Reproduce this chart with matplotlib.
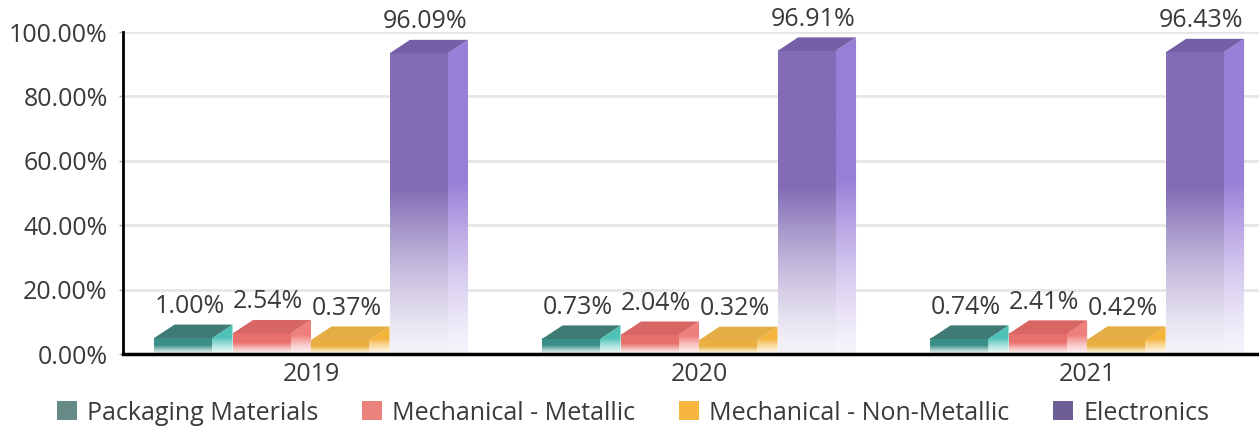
import numpy as np
import matplotlib
matplotlib.use("Agg")
import matplotlib.pyplot as plt
from matplotlib.patches import Polygon, Patch
from matplotlib.colors import to_rgb

# datos del gráfico
years = ["2019", "2020", "2021"]
series = ["Packaging Materials", "Mechanical - Metallic",
          "Mechanical - Non-Metallic", "Electronics"]
packaging = [1.00, 0.73, 0.74]
metallic = [2.54, 2.04, 2.41]
non_metallic = [0.37, 0.32, 0.42]
electronics = [96.09, 96.91, 96.43]
yticks = [0, 20, 40, 60, 80, 100]

values = [packaging, metallic, non_metallic, electronics]

# colores: cara frontal, cara superior, cara lateral, leyenda
front_c = ["#3a8f87", "#e8706c", "#e8b040", "#826cb5"]
top_c = ["#3f7b74", "#d86665", "#e5ae45", "#7460a6"]
side_c = ["#4fc2b8", "#ef7f7b", "#f4b43c", "#9a7fd8"]
legend_c = ["#668a86", "#e8827b", "#f6b63f", "#6e5e96"]

plt.rcParams['font.family'] = ['Open Sans', 'DejaVu Sans']
TXT = "#3a3a3a"
FS = 18

fig = plt.figure(figsize=(12.59, 4.30), dpi=100)
ax = fig.add_axes([123 / 1259, 1 - 354 / 430, 1 - 123 / 1259, (354 - 32) / 430])

slot = 0.2023      # ancho de cada barra incluyendo el lateral
w = 0.1495         # ancho de la cara frontal
dx = slot - w      # profundidad en x
dy = 4.2           # profundidad en y (en %)


def grad_img(color, n=200):
    """Degradado vertical: mitad superior sólida, mitad inferior hacia blanco."""
    c = np.array(to_rgb(color))
    t = np.linspace(0, 1, n)
    mix = 0.08 + 0.92 * np.clip(t / 0.55, 0, 1) ** 1.3
    rgb = c[None, :] * mix[:, None] + (1 - mix[:, None])
    return rgb[:, None, :]


for si, vals in enumerate(values):
    for ci, v in enumerate(vals):
        x0 = ci - 2 * slot + si * slot
        x1 = x0 + w
        # las barras 3D tienen una altura mínima visible
        h = 4 + 0.93 * v
        # cara frontal
        ax.imshow(grad_img(front_c[si]), extent=[x0, x1, 0, h], origin='lower',
                  aspect='auto', interpolation='bilinear', zorder=3)
        # cara lateral
        side = Polygon([(x1, 0), (x1 + dx, 0), (x1 + dx, h + dy), (x1, h)],
                       closed=True, facecolor='none', edgecolor='none')
        ax.add_patch(side)
        im = ax.imshow(grad_img(side_c[si]), extent=[x1, x1 + dx, 0, h + dy],
                       origin='lower', aspect='auto', interpolation='bilinear', zorder=3)
        im.set_clip_path(side)
        # cara superior
        ax.add_patch(Polygon([(x0, h), (x0 + dx, h + dy), (x1 + dx, h + dy), (x1, h)],
                             closed=True, facecolor=top_c[si], edgecolor='none', zorder=4))
        ax.annotate(f"{v:.2f}%", (x0 + slot / 2 - 0.01, h + dy), xytext=(0, 4),
                    textcoords='offset points', ha='center', va='bottom',
                    fontsize=FS, color=TXT, annotation_clip=False, zorder=5)

ax.set_xlim(-0.4845, 2.443)
ax.set_ylim(0, 100)
ax.set_xticks(range(len(years)))
ax.set_xticklabels(years)
ax.set_yticks(yticks)
ax.set_yticklabels([f"{t:.2f}%" for t in yticks])
ax.tick_params(axis='x', length=0, pad=6, labelsize=FS, labelcolor=TXT)
ax.tick_params(axis='y', length=3, width=1, color='#aaaaaa', pad=8,
               labelsize=FS, labelcolor=TXT)
ax.grid(axis='y', color='#e6e6e6', lw=2, zorder=0)
ax.set_axisbelow(True)
for s in ['top', 'right']:
    ax.spines[s].set_visible(False)
ax.spines['left'].set_linewidth(2)
ax.spines['bottom'].set_linewidth(2.5)
ax.spines['left'].set_zorder(6)
ax.spines['bottom'].set_zorder(6)

handles = [Patch(facecolor=c, edgecolor='none') for c in legend_c]
fig.legend(handles, series, loc='center', bbox_to_anchor=(0.503, 1 - 413 / 430),
           ncol=4, frameon=False, fontsize=FS, handlelength=0.8, handleheight=0.8,
           handletextpad=0.4, columnspacing=1.75, labelcolor=TXT,
           borderpad=0, borderaxespad=0)

fig.savefig("out.png", dpi=100)
